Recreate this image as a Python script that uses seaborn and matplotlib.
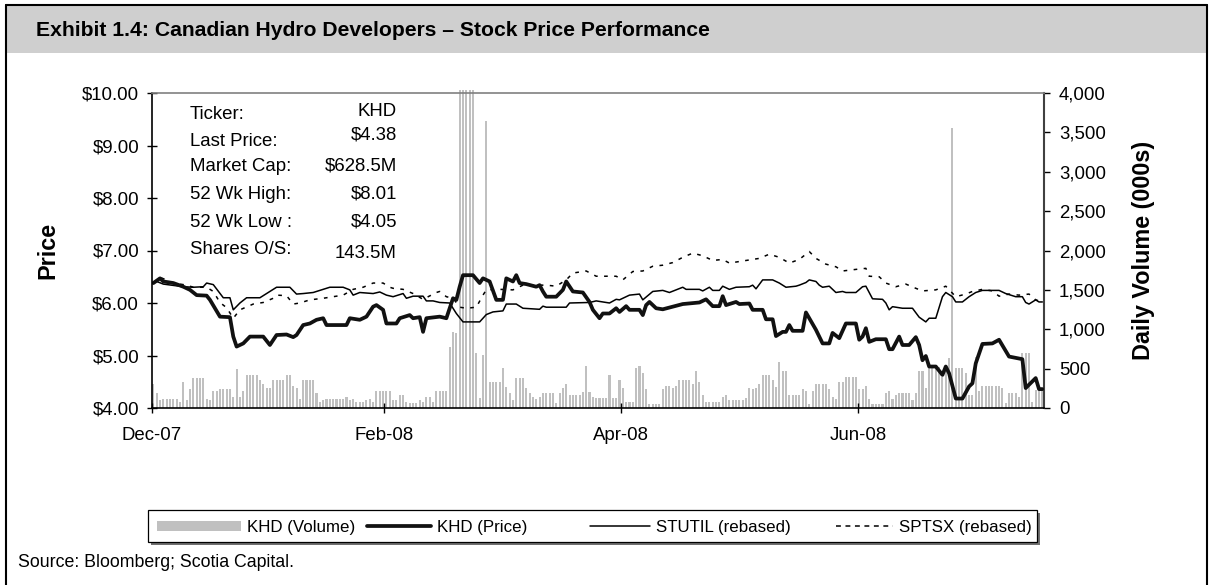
import numpy as np
import pandas as pd
import matplotlib
matplotlib.use("Agg")
import matplotlib.pyplot as plt
import seaborn as sns
from matplotlib.patches import Rectangle
from matplotlib.lines import Line2D
from matplotlib.ticker import FuncFormatter, FixedLocator

# ---------------- data ----------------
# daily volume of KHD, thousands of shares, one value per trading slot
khd_volume = [
    305, 187, 102, 110, 114, 114, 114, 114, 80, 330, 100, 241, 385, 385, 385, 385, 110, 102, 216, 216,
    241, 241, 241, 241, 144, 495, 144, 216, 419, 419, 419, 419, 355, 305, 258, 258, 355, 355, 355, 355,
    419, 419, 284, 250, 114, 355, 355, 355, 355, 187, 76, 102, 114, 114, 114, 114, 114, 114, 144, 102,
    120, 80, 80, 80, 102, 110, 80, 212, 212, 212, 212,
    216, 102, 102, 165, 165, 72, 59, 59, 59, 102, 80, 144, 144, 80, 216, 216, 216, 216, 779, 970,
    950, 4040, 4040, 4040, 4040, 4040, 694, 123, 673, 3650, 334, 334, 334, 334, 512, 271, 186, 102, 385, 385,
    385, 250, 186, 144, 110, 144, 186, 186, 186, 186, 59, 186, 250, 305, 165, 165, 165, 165, 207, 533,
    207, 144, 123, 123, 123, 123, 419, 123, 123,
    356, 250, 72, 72, 72, 512, 533, 444, 245, 55, 55, 55, 55, 245, 279, 279, 250, 279, 356, 356,
    356, 356, 300, 470, 326, 165, 72, 72, 72, 72, 72, 144, 165, 102, 102, 102,
    102, 102, 123, 250, 241, 250, 300, 419, 419, 419, 356, 271, 580, 470, 470, 165, 165, 165, 165, 241,
    216, 51, 216, 305, 305, 305, 305, 241, 135, 114, 334, 334, 390, 390, 390, 390, 241, 241, 279,
    110, 51, 51, 51, 51, 186, 216, 110, 165, 186, 186, 186, 186, 102, 186, 470, 470, 250, 525, 525,
    525, 525, 398, 546, 639, 3560, 512, 512, 512, 440, 165, 165, 652, 216, 284, 284, 284, 284, 284, 284,
    250, 59, 195, 195, 195, 144, 703, 703, 703, 72, 229, 229, 229,
]
day_index = list(range(len(khd_volume)))

# KHD price (turning points of the line: slot index, price)
khd_idx = [0, 2, 3, 6, 9, 11, 13, 16, 17, 20, 23, 24, 25, 27, 29, 33, 35, 37, 40, 42, 43, 45, 47, 49, 51,
           52, 58, 59, 62, 64, 66, 67, 69, 70, 73, 74, 77, 78, 80, 81, 82, 86, 88, 90, 91, 92, 93, 96, 98,
           99, 101, 103, 105, 106, 108, 109, 110, 112, 115, 116, 117, 118, 121, 123, 124, 126, 129, 131,
           132, 134, 135, 137, 139, 140, 142, 143, 146, 147, 148, 149, 151, 153, 156, 159, 164, 166, 168,
           170, 171, 172, 175, 176, 179, 180, 183, 184, 186, 187, 189, 190, 191, 192, 195, 196, 198, 199,
           201, 203, 204, 206, 208, 211, 212, 213, 214, 215, 217, 220, 221, 222, 224, 225, 227, 229, 230,
           231, 232, 233, 235, 237, 238, 239, 241, 243, 245, 246, 247, 249, 252, 254, 257, 261, 262, 265,
           266, 267]
khd_price = [6.38, 6.47, 6.41, 6.38, 6.31, 6.25, 6.15, 6.14, 6.06, 5.74, 5.73, 5.36, 5.17, 5.23, 5.36, 5.36,
             5.20, 5.39, 5.40, 5.35, 5.39, 5.58, 5.61, 5.68, 5.71, 5.58, 5.58, 5.71, 5.68, 5.74, 5.93, 5.96,
             5.87, 5.61, 5.61, 5.71, 5.77, 5.71, 5.73, 5.45, 5.71, 5.74, 5.71, 6.09, 6.06, 6.31, 6.53, 6.53,
             6.38, 6.47, 6.41, 6.06, 6.06, 6.47, 6.41, 6.53, 6.38, 6.36, 6.31, 6.34, 6.22, 6.12, 6.12, 6.25,
             6.41, 6.22, 6.20, 6.02, 5.87, 5.71, 5.80, 5.80, 5.90, 5.83, 5.94, 5.87, 5.87, 5.77, 5.96, 6.02,
             5.90, 5.88, 5.93, 5.98, 6.01, 6.07, 5.94, 5.94, 6.13, 5.96, 6.02, 5.98, 5.99, 5.87, 5.87, 5.69,
             5.69, 5.37, 5.45, 5.45, 5.58, 5.47, 5.47, 5.82, 5.60, 5.49, 5.23, 5.23, 5.43, 5.33, 5.61, 5.61,
             5.30, 5.36, 5.52, 5.26, 5.31, 5.31, 5.12, 5.12, 5.36, 5.20, 5.20, 5.35, 5.20, 4.91, 4.99, 4.79,
             4.79, 4.63, 4.79, 4.66, 4.18, 4.18, 4.41, 4.47, 4.85, 5.22, 5.23, 5.30, 4.98, 4.93, 4.38, 4.57,
             4.36, 4.36]

# STUTIL index rebased to KHD price
stutil_idx = [0, 1, 3, 9, 12, 15, 16, 18, 21, 23, 24, 26, 28, 32, 34, 37, 41, 43, 45, 48, 51, 53, 57, 59,
              60, 62, 66, 68, 70, 72, 75, 76, 78, 81, 82, 84, 86, 89, 91, 93, 98, 100, 102, 105, 106, 109,
              111, 116, 117, 118, 124, 125, 131, 133, 137, 139, 140, 143, 146, 147, 150, 153, 155, 159, 160,
              164, 165, 167, 168, 170, 171, 173, 175, 179, 180, 181, 183, 186, 188, 189, 190, 193, 194, 196,
              197, 199, 200, 201, 203, 205, 207, 208, 211, 213, 214, 215, 216, 219, 220, 221, 222, 225, 228,
              230, 232, 233, 235, 237, 238, 240, 241, 243, 245, 247, 249, 254, 256, 259, 261, 262, 263, 265,
              266, 267]
stutil_val = [6.38, 6.41, 6.36, 6.31, 6.30, 6.31, 6.38, 6.35, 6.10, 6.10, 5.87, 6.00, 6.10, 6.10, 6.18, 6.30,
              6.30, 6.17, 6.18, 6.20, 6.26, 6.30, 6.30, 6.25, 6.15, 6.20, 6.18, 6.21, 6.15, 6.12, 6.18, 6.09,
              6.13, 6.13, 6.04, 6.04, 6.01, 6.00, 5.80, 5.64, 5.64, 5.78, 5.83, 5.85, 5.98, 5.98, 5.90, 5.88,
              5.94, 5.92, 5.92, 6.00, 6.01, 6.04, 6.00, 6.07, 6.06, 6.15, 6.17, 6.06, 6.22, 6.24, 6.20, 6.30,
              6.26, 6.26, 6.23, 6.30, 6.24, 6.24, 6.32, 6.26, 6.30, 6.31, 6.34, 6.27, 6.44, 6.44, 6.38, 6.34,
              6.30, 6.32, 6.34, 6.39, 6.44, 6.41, 6.34, 6.30, 6.32, 6.20, 6.22, 6.20, 6.20, 6.31, 6.32, 6.20,
              6.08, 6.07, 6.00, 5.87, 5.93, 5.90, 5.90, 5.73, 5.64, 5.71, 5.71, 6.12, 6.20, 6.12, 6.02, 6.02,
              6.12, 6.20, 6.24, 6.24, 6.18, 6.12, 6.12, 6.01, 5.98, 6.06, 6.02, 6.02]

# S&P/TSX index rebased to KHD price
sptsx_idx = [0, 2, 6, 10, 12, 16, 18, 20, 22, 24, 26, 30, 33, 36, 37, 40, 42, 44, 47, 51, 54, 57, 60, 63,
             66, 69, 71, 72, 75, 78, 81, 85, 86, 88, 90, 92, 94, 97, 99, 100, 104, 108, 111, 118, 121, 124,
             126, 130, 133, 139, 141, 144, 147, 150, 153, 156, 159, 162, 165, 168, 171, 173, 176, 180, 182,
             185, 188, 191, 194, 197, 199, 202, 205, 207, 211, 214, 215, 218, 220, 223, 226, 229, 231, 235,
             238, 241, 244, 246, 249, 252, 254, 257, 260, 263, 265, 267]
sptsx_val = [6.38, 6.49, 6.38, 6.34, 6.30, 6.30, 6.22, 6.01, 5.91, 5.71, 5.87, 5.98, 6.01, 6.09, 6.15, 6.14,
             5.98, 6.00, 6.06, 6.09, 6.12, 6.15, 6.26, 6.30, 6.38, 6.38, 6.30, 6.28, 6.26, 6.18, 6.07, 6.20,
             6.22, 6.12, 6.09, 5.92, 5.90, 5.92, 6.15, 6.25, 6.26, 6.25, 6.34, 6.34, 6.32, 6.44, 6.57, 6.61,
             6.51, 6.51, 6.44, 6.60, 6.61, 6.70, 6.72, 6.77, 6.87, 6.95, 6.90, 6.81, 6.83, 6.76, 6.79, 6.83,
             6.85, 6.93, 6.87, 6.76, 6.83, 6.98, 6.85, 6.74, 6.69, 6.61, 6.64, 6.66, 6.51, 6.50, 6.38, 6.31,
             6.36, 6.28, 6.23, 6.25, 6.32, 6.12, 6.17, 6.22, 6.26, 6.23, 6.13, 6.17, 6.15, 6.17, 6.06, 6.02]

month_labels = ["Dec-07", "Feb-08", "Apr-08", "Jun-08"]
month_pos = [-0.5, 69.3, 140.5, 211.7]

price_ticks = [4, 5, 6, 7, 8, 9, 10]
volume_ticks = [0, 500, 1000, 1500, 2000, 2500, 3000, 3500, 4000]

info_labels = ["Ticker:", "Last Price:", "Market Cap:", "52 Wk High:", "52 Wk Low :", "Shares O/S:"]
info_values = ["KHD", "$4.38", "$628.5M", "$8.01", "$4.05", "143.5M"]

legend_labels = ["KHD (Volume)", "KHD (Price)", "STUTIL (rebased)", "SPTSX (rebased)"]

title_text = "Exhibit 1.4: Canadian Hydro Developers \u2013 Stock Price Performance"
source_text = "Source: Bloomberg; Scotia Capital."

# ---------------- figure ----------------
sns.set_theme(style="ticks")
plt.rcParams["font.family"] = ["Liberation Sans", "DejaVu Sans"]

W, H = 1212, 585
fig = plt.figure(figsize=(W / 100, H / 100), dpi=100)
fig.patch.set_facecolor("white")


def fx(px):
    return px / W


def fy(py):
    return 1 - py / H


TF = fig.transFigure
DASH = (0, (2.4, 4.2))

# outer frame + title bar
fig.patches.append(Rectangle((fx(6), fy(53)), fx(1207) - fx(6), fy(5) - fy(53), transform=TF,
                             facecolor="#cfcfcf", edgecolor="none", zorder=0))
for xs, ys in [([6, 6], [5, 585]), ([6, 1207], [5, 5]), ([1207, 1207], [5, 585])]:
    fig.lines.append(Line2D([fx(v) for v in xs], [fy(v) for v in ys], transform=TF,
                            color="black", lw=1.5, zorder=1))
fig.text(fx(36), fy(35.5), title_text, fontsize=15.2, fontweight="bold", color="black",
         ha="left", va="baseline")

ax = fig.add_axes([fx(151.7), fy(408), fx(1044) - fx(151.7), fy(93) - fy(408)])
ax2 = ax.twinx()

vol_df = pd.DataFrame({"slot": day_index, "volume": khd_volume})
sns.barplot(data=vol_df, x="slot", y="volume", ax=ax2, native_scale=True, color="#c0c0c0",
            saturation=1, width=0.62, errorbar=None, linewidth=0)
for p in ax2.patches:
    p.set_clip_on(False)

sns.lineplot(x=sptsx_idx, y=sptsx_val, ax=ax, color="black", linewidth=1.1, linestyle=DASH)
sns.lineplot(x=stutil_idx, y=stutil_val, ax=ax, color="black", linewidth=1.1)
sns.lineplot(x=khd_idx, y=khd_price, ax=ax, color="#111111", linewidth=2.7)

ax.set_zorder(ax2.get_zorder() + 1)
ax.patch.set_visible(False)

ax.set_xlim(-0.5, len(khd_volume) - 0.5)
ax.set_ylim(4, 10)
ax2.set_ylim(0, 4000)

ax.xaxis.set_major_locator(FixedLocator(month_pos))
ax.set_xticklabels(month_labels)
ax.yaxis.set_major_locator(FixedLocator(price_ticks))
ax.yaxis.set_major_formatter(FuncFormatter(lambda v, p: f"${v:.2f}"))
ax2.yaxis.set_major_locator(FixedLocator(volume_ticks))
ax2.yaxis.set_major_formatter(FuncFormatter(lambda v, p: f"{v:,.0f}"))

ax.tick_params(axis="y", left=True, direction="inout", length=7, width=1, pad=5.5,
               labelsize=13.4, colors="black")
ax.tick_params(axis="x", bottom=True, direction="inout", length=7, width=1, pad=10.5,
               labelsize=13.4, colors="black")
ax2.tick_params(axis="y", right=True, direction="out", length=4.3, width=1, pad=6.5,
                labelsize=13.4, colors="black")

for s in ["left", "bottom"]:
    ax.spines[s].set_color("black")
    ax.spines[s].set_linewidth(1.2)
ax.spines["top"].set_color("#808080")
ax.spines["top"].set_linewidth(1.2)
ax.spines["right"].set_visible(False)
for s in ["left", "top", "bottom"]:
    ax2.spines[s].set_visible(False)
ax2.spines["right"].set_color("#404040")
ax2.spines["right"].set_linewidth(1.5)

ax.set_xlabel("")
ax2.set_xlabel("")
ax.set_ylabel("Price", fontsize=16.8, fontweight="bold", color="black")
ax.yaxis.set_label_coords(-0.1033, 0.5)
ax2.set_ylabel("Daily Volume (000s)", fontsize=16.8, fontweight="bold", color="black")
ax2.yaxis.set_label_coords(1.0985, 0.5)

# info box text
label_base = [119, 145.7, 171, 199, 226.7, 254.3]
value_base = [116, 139.3, 170.7, 198.3, 226.7, 257.7]
for lab, val, yl, yv in zip(info_labels, info_values, label_base, value_base):
    fig.text(fx(190), fy(yl), lab, fontsize=13.4, ha="left", va="baseline", color="black")
    fig.text(fx(397), fy(yv), val, fontsize=13.4, ha="right", va="baseline", color="black")

# legend (drawn as a framed strip like the original)
fig.patches.append(Rectangle((fx(151), fy(545)), fx(1040) - fx(151), fy(513) - fy(545), transform=TF,
                             facecolor="#707070", edgecolor="none", zorder=2))
fig.patches.append(Rectangle((fx(148), fy(542)), fx(1037) - fx(148), fy(510) - fy(542), transform=TF,
                             facecolor="white", edgecolor="black", lw=0.9, zorder=3))
fig.patches.append(Rectangle((fx(157), fy(531)), fx(241) - fx(157), fy(521) - fy(531), transform=TF,
                             facecolor="#c0c0c0", edgecolor="none", zorder=4))
fig.lines.append(Line2D([fx(367), fx(431)], [fy(526), fy(526)], transform=TF, color="#111111",
                        lw=2.7, zorder=4))
fig.lines.append(Line2D([fx(590), fx(650)], [fy(526), fy(526)], transform=TF, color="black",
                        lw=1.1, zorder=4))
fig.lines.append(Line2D([fx(836), fx(893)], [fy(526), fy(526)], transform=TF, color="black",
                        lw=1.1, linestyle=(0, (3.2, 3.0)), zorder=4))
for lab, xp in zip(legend_labels, [247, 437, 656, 899]):
    t = fig.text(fx(xp), fy(532), lab, fontsize=12.2, ha="left", va="baseline", color="black")
    t.set_zorder(5)

fig.text(fx(18), fy(567), source_text, fontsize=12.8, ha="left", va="baseline", color="black")

fig.savefig("out.png", dpi=100, facecolor="white")
